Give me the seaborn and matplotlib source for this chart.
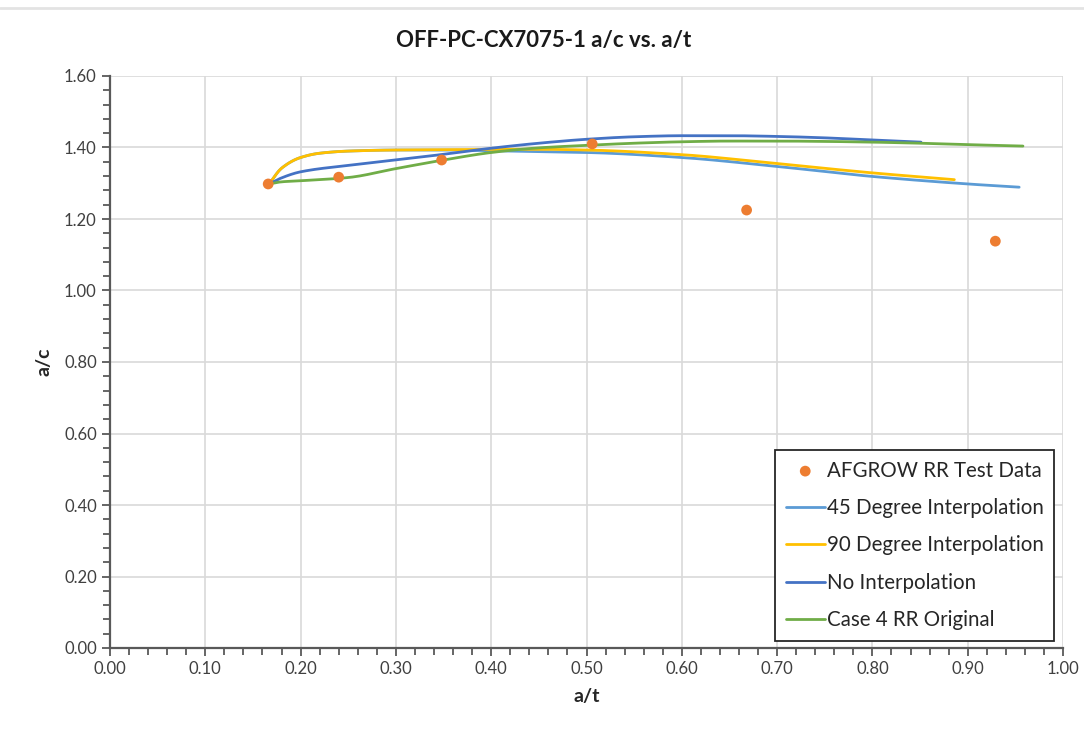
import numpy as np
import pandas as pd
import matplotlib
matplotlib.use("Agg")
import matplotlib.pyplot as plt
import seaborn as sns
from matplotlib.ticker import MultipleLocator, FormatStrFormatter

sns.set_theme(style="white")
plt.rcParams['font.family'] = ['Lato', 'DejaVu Sans']

# Test data points
test_at = [0.166, 0.240, 0.348, 0.506, 0.668, 0.929]
test_ac = [1.298, 1.317, 1.365, 1.410, 1.225, 1.138]

# 45 Degree Interpolation
d45_at = [0.167, 0.18, 0.20, 0.22, 0.25, 0.30, 0.35, 0.40, 0.45, 0.50, 0.60, 0.70, 0.80, 0.90, 0.954]
d45_ac = [1.298, 1.342, 1.372, 1.384, 1.390, 1.393, 1.393, 1.391, 1.388, 1.386, 1.372, 1.347, 1.319, 1.298, 1.289]

# 90 Degree Interpolation
d90_at = [0.167, 0.18, 0.20, 0.22, 0.25, 0.30, 0.35, 0.40, 0.45, 0.50, 0.60, 0.70, 0.80, 0.886]
d90_ac = [1.298, 1.342, 1.372, 1.384, 1.390, 1.393, 1.394, 1.395, 1.395, 1.393, 1.380, 1.355, 1.329, 1.310]

# No Interpolation
none_at = [0.167, 0.18, 0.20, 0.25, 0.30, 0.35, 0.40, 0.45, 0.50, 0.55, 0.60, 0.65, 0.70, 0.75, 0.80, 0.851]
none_ac = [1.298, 1.315, 1.332, 1.350, 1.365, 1.381, 1.398, 1.412, 1.423, 1.430, 1.433, 1.433, 1.431, 1.427, 1.421, 1.415]

# Case 4 RR Original
case4_at = [0.167, 0.18, 0.20, 0.25, 0.30, 0.35, 0.40, 0.45, 0.50, 0.55, 0.60, 0.65, 0.70, 0.75, 0.80, 0.85, 0.90, 0.958]
case4_ac = [1.298, 1.304, 1.307, 1.316, 1.341, 1.365, 1.386, 1.399, 1.406, 1.412, 1.416, 1.418, 1.418, 1.417, 1.415, 1.412, 1.408, 1.404]

fig = plt.figure(figsize=(10.84, 7.36), dpi=100)
ax = fig.add_axes([110/1084, 1-648/736, (1063-110)/1084, (648-76)/736])

# top grey border line as in source screenshot
fig.add_artist(plt.Line2D([0.0, 1.0], [1-8/736, 1-8/736], color='#e3e3e3', lw=2))

def smooth(xs, ys, n=300):
    xs = np.asarray(xs, float); ys = np.asarray(ys, float)
    xx = np.linspace(xs[0], xs[-1], n)
    # monotone cubic (PCHIP-like) interpolation of the read points
    h = np.diff(xs); d = np.diff(ys) / h
    m = np.zeros_like(xs)
    for k in range(1, len(xs)-1):
        if d[k-1] * d[k] > 0:
            w1 = 2*h[k] + h[k-1]; w2 = h[k] + 2*h[k-1]
            m[k] = (w1 + w2) / (w1/d[k-1] + w2/d[k])
    m[0] = d[0]; m[-1] = d[-1]
    idx = np.clip(np.searchsorted(xs, xx) - 1, 0, len(xs)-2)
    t = (xx - xs[idx]) / h[idx]
    h00 = 2*t**3 - 3*t**2 + 1; h10 = t**3 - 2*t**2 + t
    h01 = -2*t**3 + 3*t**2; h11 = t**3 - t**2
    yy = h00*ys[idx] + h10*h[idx]*m[idx] + h01*ys[idx+1] + h11*h[idx]*m[idx+1]
    return xx, yy

series = [
    ("45 Degree Interpolation", d45_at, d45_ac, "#5b9bd5"),
    ("90 Degree Interpolation", d90_at, d90_ac, "#ffc000"),
    ("No Interpolation", none_at, none_ac, "#4472c4"),
    ("Case 4 RR Original", case4_at, case4_ac, "#70ad47"),
]

sns.scatterplot(x=test_at, y=test_ac, ax=ax, color="#ed7d31", s=60, edgecolor="none",
                label="AFGROW RR Test Data", zorder=5)
for name, xs, ys, col in series:
    xx, yy = smooth(xs, ys)
    df = pd.DataFrame({"x": xx, "y": yy})
    sns.lineplot(data=df, x="x", y="y", ax=ax, color=col, lw=2.0, label=name,
                 sort=False, estimator=None)

ax.set_xlim(0, 1.0)
ax.set_ylim(0, 1.6)
ax.xaxis.set_major_locator(MultipleLocator(0.1))
ax.xaxis.set_minor_locator(MultipleLocator(0.02))
ax.yaxis.set_major_locator(MultipleLocator(0.2))
ax.yaxis.set_minor_locator(MultipleLocator(0.04))
ax.xaxis.set_major_formatter(FormatStrFormatter('%.2f'))
ax.yaxis.set_major_formatter(FormatStrFormatter('%.2f'))
ax.grid(True, which='major', color='#d9d9d9', lw=1.2)
ax.set_axisbelow(True)
for s in ['top', 'right']:
    ax.spines[s].set_visible(False)
for s in ['left', 'bottom']:
    ax.spines[s].set_color('#595959')
    ax.spines[s].set_linewidth(1.6)
ax.tick_params(axis='both', which='both', direction='out', colors='#595959',
               labelcolor='#404040', labelsize=12)
ax.tick_params(which='major', length=6, width=1.3, bottom=True, left=True)
ax.tick_params(which='minor', length=5, width=1.3, bottom=True, left=True)

ax.set_xlabel("a/t", fontsize=14, fontweight='bold', color='#262626', labelpad=8)
ax.set_ylabel("a/c", fontsize=14, fontweight='bold', color='#262626', labelpad=8)
fig.text(0.5 + 2/1084, 1-40/736, "OFF-PC-CX7075-1 a/c vs. a/t", ha='center', va='center',
         fontsize=16, fontweight='bold', color='#1a1a1a')

leg = ax.legend(loc='lower right', bbox_to_anchor=(0.997, 0.002), fontsize=14.8,
                frameon=True, fancybox=False, edgecolor='#262626', framealpha=1,
                handlelength=1.9, handletextpad=0.1, borderpad=0.5, labelspacing=0.85,
                borderaxespad=0.3)
leg.get_frame().set_linewidth(1.3)
for t in leg.get_texts():
    t.set_color('#262626')

fig.savefig("out.png", dpi=100, facecolor='white')
